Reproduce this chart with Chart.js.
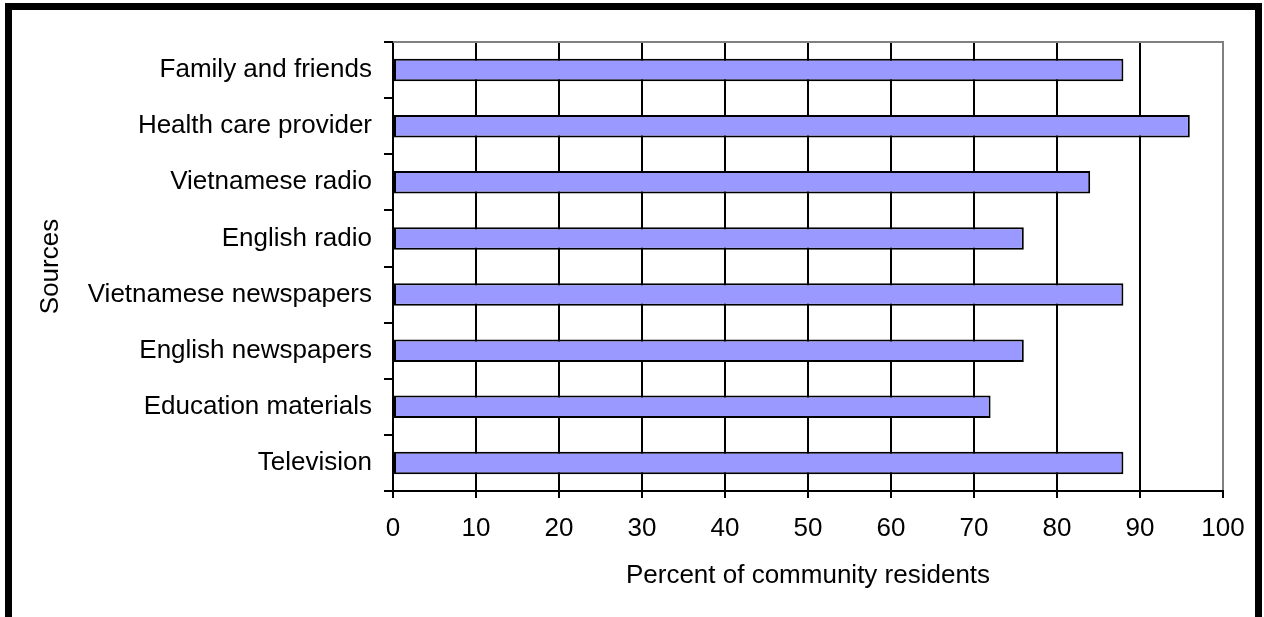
<!DOCTYPE html>
<html>
<head>
<meta charset="utf-8">
<script src="https://cdn.jsdelivr.net/npm/chart.js@4.4.1/dist/chart.umd.min.js"></script>
<style>
  html, body { margin: 0; padding: 0; background: #fff; overflow: hidden; }
  canvas { display: block; }
</style>
</head>
<body>
<canvas id="c" width="1264" height="617"></canvas>
<script>
// Information sources, top to bottom
const sources = [
  'Family and friends',
  'Health care provider',
  'Vietnamese radio',
  'English radio',
  'Vietnamese newspapers',
  'English newspapers',
  'Education materials',
  'Television'
];
// Percent of community residents using each source
const percents = [88, 96, 84, 76, 88, 76, 72, 88];

// Value axis range
const xMin = 0;
const xMax = 100;
const xStep = 10;

const xTitle = 'Percent of community residents';
const yTitle = 'Sources';

const FONT = '"Liberation Sans", Arial, Helvetica, sans-serif';
const FONT_SIZE = 26;

// White page with a heavy black frame (open at the bottom)
const framePlugin = {
  id: 'frame',
  beforeDraw(chart) {
    const ctx = chart.ctx;
    ctx.save();
    ctx.fillStyle = '#fff';
    ctx.fillRect(0, 0, chart.width, chart.height);
    ctx.restore();
  },
  afterDraw(chart) {
    const ctx = chart.ctx;
    ctx.save();
    ctx.fillStyle = '#000';
    ctx.fillRect(5, 3, 7, chart.height);
    ctx.fillRect(5, 3, 1257, 7);
    ctx.fillRect(1255, 3, 7, chart.height);
    ctx.restore();
  }
};

// Grey line closing the top of the plot area
const plotTopPlugin = {
  id: 'plotTop',
  beforeDatasetsDraw(chart) {
    const { left, right, top } = chart.chartArea;
    const ctx = chart.ctx;
    ctx.save();
    ctx.strokeStyle = '#808080';
    ctx.lineWidth = 2;
    ctx.beginPath();
    ctx.moveTo(left, top);
    ctx.lineTo(right + 1, top);
    ctx.stroke();
    ctx.restore();
  }
};

const PAD_LEFT = 32;
const PLOT_LEFT = 393;
const PLOT_TOP = 42;
const PLOT_RIGHT = 1223;
const PLOT_BOTTOM = 491;

new Chart(document.getElementById('c'), {
  type: 'bar',
  data: {
    labels: sources,
    datasets: [{
      data: percents,
      backgroundColor: '#9999FF',
      borderColor: '#000',
      borderWidth: 2,
      borderSkipped: false,
      categoryPercentage: 1,
      barPercentage: 0.4
    }]
  },
  options: {
    indexAxis: 'y',
    responsive: false,
    animation: false,
    devicePixelRatio: 1,
    layout: {
      padding: { left: PAD_LEFT, top: PLOT_TOP, right: 1264 - PLOT_RIGHT, bottom: 0 }
    },
    plugins: {
      legend: { display: false },
      tooltip: { enabled: false }
    },
    scales: {
      x: {
        type: 'linear',
        position: 'bottom',
        min: xMin,
        max: xMax,
        afterFit(scale) { scale.height = 617 - PLOT_BOTTOM; },
        ticks: {
          stepSize: xStep,
          color: '#000',
          padding: 15,
          font: { family: FONT, size: FONT_SIZE }
        },
        grid: {
          color: (ctx) => (ctx.tick && ctx.tick.value === xMax ? '#808080' : '#000'),
          tickColor: '#000',
          lineWidth: 2,
          tickLength: 7,
          drawOnChartArea: true,
          drawTicks: true
        },
        border: { display: true, color: '#000', width: 2 },
        title: {
          display: true,
          text: xTitle,
          color: '#000',
          font: { family: FONT, size: FONT_SIZE },
          padding: { top: 0, bottom: 26 }
        }
      },
      y: {
        type: 'category',
        position: 'left',
        afterFit(scale) { scale.width = PLOT_LEFT - PAD_LEFT; },
        ticks: {
          color: '#000',
          padding: 12,
          font: { family: FONT, size: FONT_SIZE }
        },
        grid: {
          offset: true,
          color: '#000',
          lineWidth: 2,
          tickLength: 9,
          drawOnChartArea: false,
          drawTicks: true
        },
        border: { display: true, color: '#000', width: 2 },
        title: {
          display: true,
          text: yTitle,
          color: '#000',
          font: { family: FONT, size: FONT_SIZE },
          padding: { top: 3, bottom: 0 }
        }
      }
    }
  },
  plugins: [framePlugin, plotTopPlugin]
});
</script>
</body>
</html>
